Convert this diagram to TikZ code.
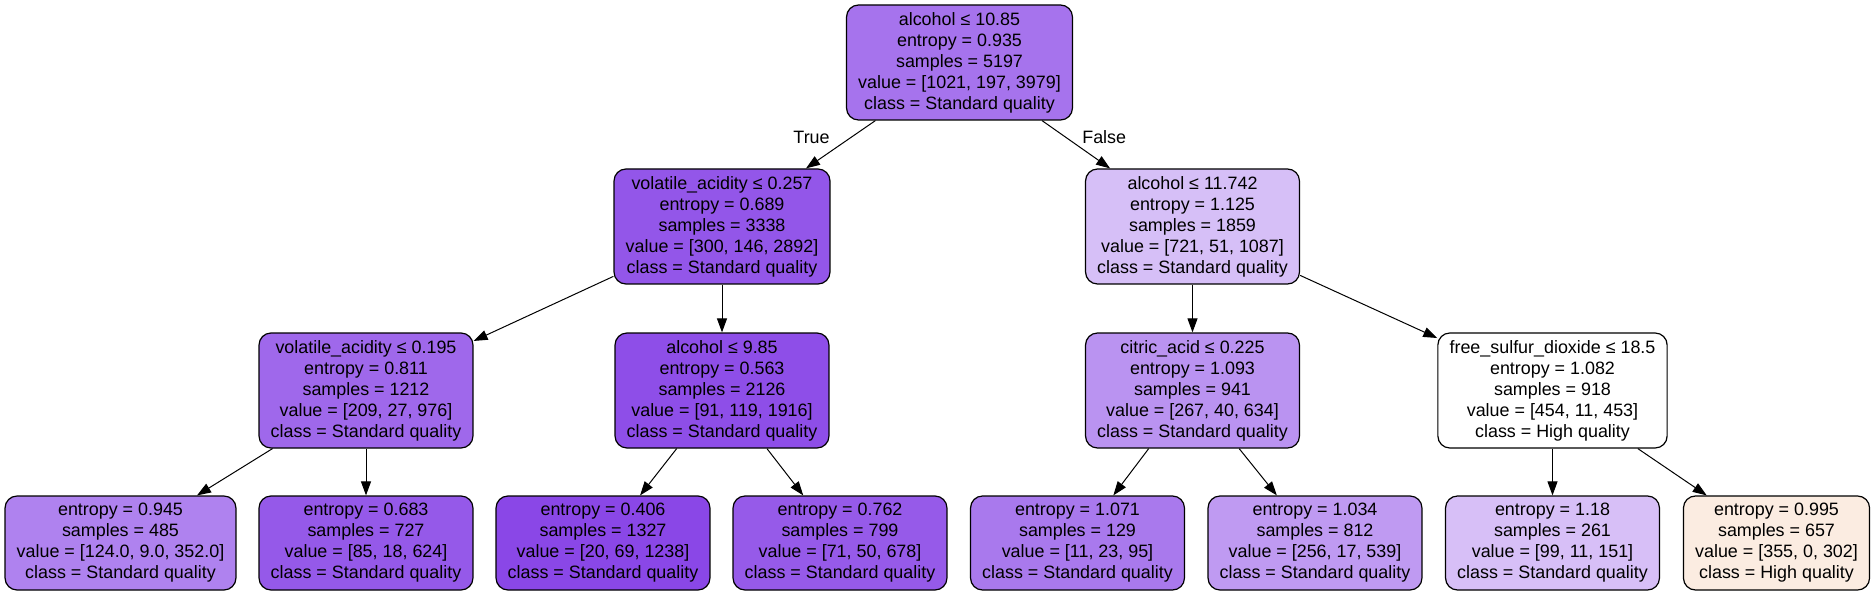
\documentclass[tikz,border=0pt]{standalone}
\usepackage{fontspec}
\newfontfamily\treefont{Liberation Sans}
\usetikzlibrary{arrows.meta}

\definecolor{stdq}{RGB}{129,57,229}
\definecolor{highq}{RGB}{229,129,57}

\tikzset{
  treebox/.style={draw, line width=1.2pt, rounded corners=12pt, align=center,
    inner xsep=11.7pt, minimum height=115pt,
    font={\treefont\fontsize{17.9}{21}\selectfont}},
  leafbox/.style={treebox, minimum height=94pt},
  treeedge/.style={->, line width=1pt},
  branchlabel/.style={font={\treefont\fontsize{17.9}{21}\selectfont}, inner sep=0pt},
}

\begin{document}
\begin{tikzpicture}[x=1pt, y=-1pt, >={Triangle[length=14pt, width=10pt]}]
  \useasboundingbox (0,0) rectangle (1875,596);
  % splits
  \node[treebox, fill=stdq!70.83] (root) at (959.5,62.5) {alcohol ≤ 10.85\\entropy = 0.935\\samples = 5197\\value = [1021, 197, 3979]\\class = Standard quality};
  \node[treebox, fill=stdq!85.32] (va257) at (722,226.5) {volatile\_acidity ≤ 0.257\\entropy = 0.689\\samples = 3338\\value = [300, 146, 2892]\\class = Standard quality};
  \node[treebox, fill=stdq!32.16] (al11742) at (1192.5,226.5) {alcohol ≤ 11.742\\entropy = 1.125\\samples = 1859\\value = [721, 51, 1087]\\class = Standard quality};
  \node[treebox, fill=stdq!76.47] (va195) at (366,390.5) {volatile\_acidity ≤ 0.195\\entropy = 0.811\\samples = 1212\\value = [209, 27, 976]\\class = Standard quality};
  \node[treebox, fill=stdq!89.54] (al985) at (722,390.5) {alcohol ≤ 9.85\\entropy = 0.563\\samples = 2126\\value = [91, 119, 1916]\\class = Standard quality};
  \node[treebox, fill=stdq!54.46] (ca225) at (1192.5,390.5) {citric\_acid ≤ 0.225\\entropy = 1.093\\samples = 941\\value = [267, 40, 634]\\class = Standard quality};
  \node[treebox, fill=highq!0.2] (fsd185) at (1552.5,390.5) {free\_sulfur\_dioxide ≤ 18.5\\entropy = 1.082\\samples = 918\\value = [454, 11, 453]\\class = High quality};
  % leaves
  \node[leafbox, fill=stdq!63.16] (e945) at (120.5,543) {entropy = 0.945\\samples = 485\\value = [124.0, 9.0, 352.0]\\class = Standard quality};
  \node[leafbox, fill=stdq!83.95] (e683) at (366,543) {entropy = 0.683\\samples = 727\\value = [85, 18, 624]\\class = Standard quality};
  \node[leafbox, fill=stdq!92.92] (e406) at (603,543) {entropy = 0.406\\samples = 1327\\value = [20, 69, 1238]\\class = Standard quality};
  \node[leafbox, fill=stdq!83.38] (e762) at (840,543) {entropy = 0.762\\samples = 799\\value = [71, 50, 678]\\class = Standard quality};
  \node[leafbox, fill=stdq!67.92] (e1071) at (1077.5,543) {entropy = 1.071\\samples = 129\\value = [11, 23, 95]\\class = Standard quality};
  \node[leafbox, fill=stdq!50.90] (e1034) at (1315,543) {entropy = 1.034\\samples = 812\\value = [256, 17, 539]\\class = Standard quality};
  \node[leafbox, fill=stdq!32.09] (e118) at (1552.5,543) {entropy = 1.18\\samples = 261\\value = [99, 11, 151]\\class = Standard quality};
  \node[leafbox, fill=highq!14.92] (e995) at (1776.5,543) {entropy = 0.995\\samples = 657\\value = [355, 0, 302]\\class = High quality};
  % edges
  \draw[treeedge] (root) -- node[branchlabel, pos=0.35, left=21pt] {True} (va257);
  \draw[treeedge] (root) -- node[branchlabel, pos=0.35, right=16pt] {False} (al11742);
  \draw[treeedge] (va257) -- (va195);
  \draw[treeedge] (va257) -- (al985);
  \draw[treeedge] (al11742) -- (ca225);
  \draw[treeedge] (al11742) -- (fsd185);
  \draw[treeedge] (va195) -- (e945);
  \draw[treeedge] (va195) -- (e683);
  \draw[treeedge] (al985) -- (e406);
  \draw[treeedge] (al985) -- (e762);
  \draw[treeedge] (ca225) -- (e1071);
  \draw[treeedge] (ca225) -- (e1034);
  \draw[treeedge] (fsd185) -- (e118);
  \draw[treeedge] (fsd185) -- (e995);
\end{tikzpicture}
\end{document}
